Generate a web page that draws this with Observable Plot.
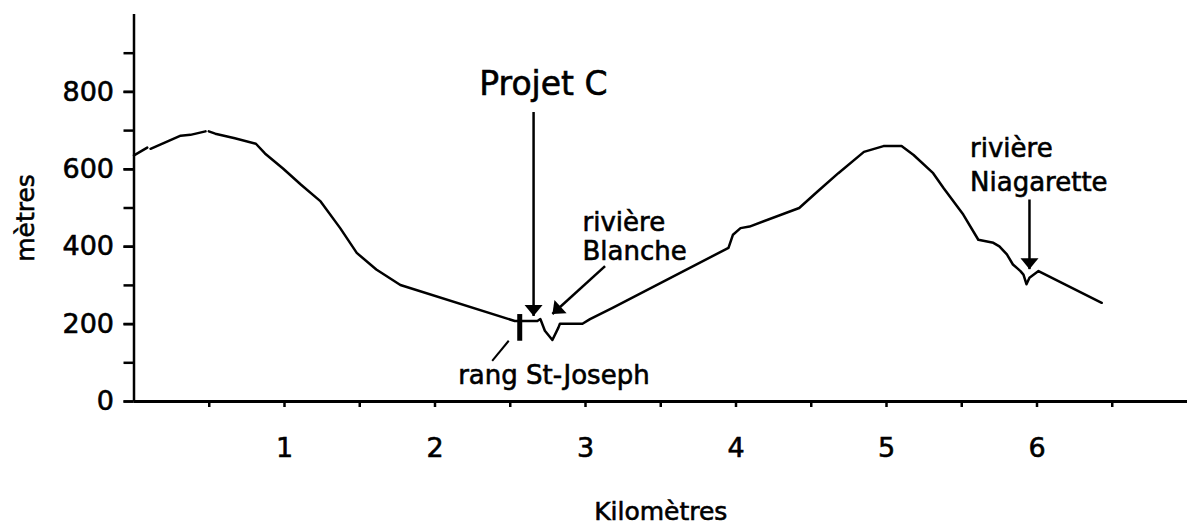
<!DOCTYPE html>
<html><head><meta charset="utf-8">
<script src="https://cdn.jsdelivr.net/npm/d3@7"></script>
<script src="https://cdn.jsdelivr.net/npm/@observablehq/plot@0.6"></script>
<style>body{margin:0;background:#fff} svg{display:block} svg text{stroke:#000;stroke-width:0.6px}</style>
</head><body><div id="chart"></div>
<script>
// Elevation profile (km, metres); null marks a break in the drawn line
const km = [0, 0.088, null, 0.11, 0.31, 0.375, 0.475, null, 0.497, 0.54, 0.67, 0.81, 0.87, 0.99, 1.11, 1.24, 1.37, 1.48, 1.61, 1.77,
  2.53, 2.68, 2.70, 2.73, 2.78, 2.82, 2.83, 2.89, 2.98, 3.03, 3.18, 3.95, 3.98, 4.03, 4.09,
  4.42, 4.54, 4.68, 4.85, 4.98, 5.10, 5.18, 5.31, 5.38, 5.51, 5.61, 5.71, 5.75, 5.80, 5.84,
  5.89, 5.91, 5.93, 5.95, 6.01, 6.43];
const metres = [636, 656, null, 653, 687, 689, 698, null, 698, 692, 680, 666, 641, 602, 560, 517, 448, 384, 341, 301,
  208, 208, 213, 183, 159, 191, 201, 201, 201, 213, 242, 397, 431, 448, 452,
  500, 542, 590, 645, 660, 660, 637, 590, 551, 483, 418, 410, 401, 380, 354,
  337, 328, 303, 320, 337, 255];

// Axis ticks
const xTicks = [0.5, 1, 1.5, 2, 2.5, 3, 3.5, 4, 4.5, 5, 5.5, 6, 6.5];
const xTickLabels = [1, 2, 3, 4, 5, 6];
const yTicks = [0, 100, 200, 300, 400, 500, 600, 700, 800, 900];
const yTickLabels = [0, 200, 400, 600, 800];

// Annotation labels
const labelTexts = ["Projet C", "rang St-Joseph"];
const labelKm = [2.72, 2.79];
const labelM = [820, 67];
const labelSize = [33, 26];
const riverTexts = ["rivière\nBlanche", "rivière\nNiagarette"];
const riverKm = [2.98, 5.555];
const riverM = [427, 617];

// Arrows (tail -> tip)
const arrowKm1 = [2.655, 3.13, 5.95];
const arrowM1 = [748, 350, 522];
const arrowKm2 = [2.655, 2.78, 5.95];
const arrowM2 = [221, 226, 342];

// rang St-Joseph marker bar and leader
const barKm = [2.563]; const barM1 = [157]; const barM2 = [226];
const leaderKm1 = [2.38], leaderM1 = [105], leaderKm2 = [2.49], leaderM2 = [157];

const W = 1187, H = 527, mL = 133.5, mR = 0, mT = 14, mB = 126;
const xMax = 7, yMax = 1000;
const pxKm = (W - mL - mR) / xMax, pxM = (H - mT - mB) / yMax;

const profile = km.map((k, i) => ({km: k ?? NaN, m: metres[i] ?? NaN}));
const labels = labelTexts.map((t, i) => ({t, x: labelKm[i], y: labelM[i], s: labelSize[i]}));
const rivers = riverTexts.map((t, i) => ({t, x: riverKm[i], y: riverM[i]}));
const arrows = arrowKm1.map((k, i) => {
  const dx = (arrowKm2[i] - k) * pxKm, dy = -(arrowM2[i] - arrowM1[i]) * pxM;
  return {x1: k, y1: arrowM1[i], x2: arrowKm2[i], y2: arrowM2[i],
          rot: Math.atan2(-dx, dy) * 180 / Math.PI};
});

const head = {draw(ctx) { ctx.moveTo(0, 0); ctx.lineTo(-9, -11); ctx.lineTo(9, -11); ctx.closePath(); }};

const plot = Plot.plot({
  width: W, height: H,
  marginLeft: mL, marginRight: mR, marginTop: mT, marginBottom: mB,
  style: {fontFamily: "DejaVu Sans", fontSize: "26px", color: "black", background: "white"},
  x: {domain: [0, xMax]},
  y: {domain: [0, yMax]},
  marks: [
    Plot.axisY({ticks: yTicks, tickSize: 10, tickFormat: () => "", strokeWidth: 2.5}),
    Plot.axisY({ticks: yTickLabels, tickSize: 10, tickPadding: 10, fontSize: 27, strokeWidth: 2.5}),
    Plot.axisX({ticks: xTicks, tickSize: 6, tickPadding: 30, fontSize: 27, strokeWidth: 2.5,
      tickFormat: d => xTickLabels.includes(d) ? String(d) : "", label: null}),
    Plot.ruleX([0], {strokeWidth: 2.5}),
    Plot.ruleY([0], {strokeWidth: 3}),
    Plot.text(["Kilomètres"], {text: d => d, frameAnchor: "bottom", lineAnchor: "middle", textAnchor: "middle", dy: 110, fontSize: 25}),
    Plot.text(["mètres"], {text: d => d, frameAnchor: "left", textAnchor: "middle", lineAnchor: "middle", dx: -108, dy: 10, rotate: -90, fontSize: 25}),
    Plot.line(profile, {x: "km", y: "m", strokeWidth: 2.5, stroke: "black"}),
    Plot.link(barKm, {x1: d => d, x2: d => d, y1: () => barM1[0], y2: () => barM2[0], strokeWidth: 5, stroke: "black"}),
    Plot.link(leaderKm1, {x1: d => d, y1: () => leaderM1[0], x2: () => leaderKm2[0], y2: () => leaderM2[0], strokeWidth: 2, stroke: "black"}),
    Plot.link(arrows, {x1: "x1", y1: "y1", x2: "x2", y2: "y2", strokeWidth: 2.5, stroke: "black"}),
    Plot.dot(arrows, {x: "x2", y: "y2", symbol: head, r: 5, fill: "black", stroke: "none", rotate: "rot"}),
    Plot.text(labels, {x: "x", y: "y", text: "t", fontSize: "s", textAnchor: "middle"}),
    Plot.text(rivers.slice(0, 1), {x: "x", y: "y", text: "t", fontSize: 26, textAnchor: "start", lineHeight: 1.1}),
    Plot.text(rivers.slice(1), {x: "x", y: "y", text: "t", fontSize: 26, textAnchor: "start", lineHeight: 1.32})
  ]
});
document.getElementById("chart").appendChild(plot);
</script>
</body></html>
